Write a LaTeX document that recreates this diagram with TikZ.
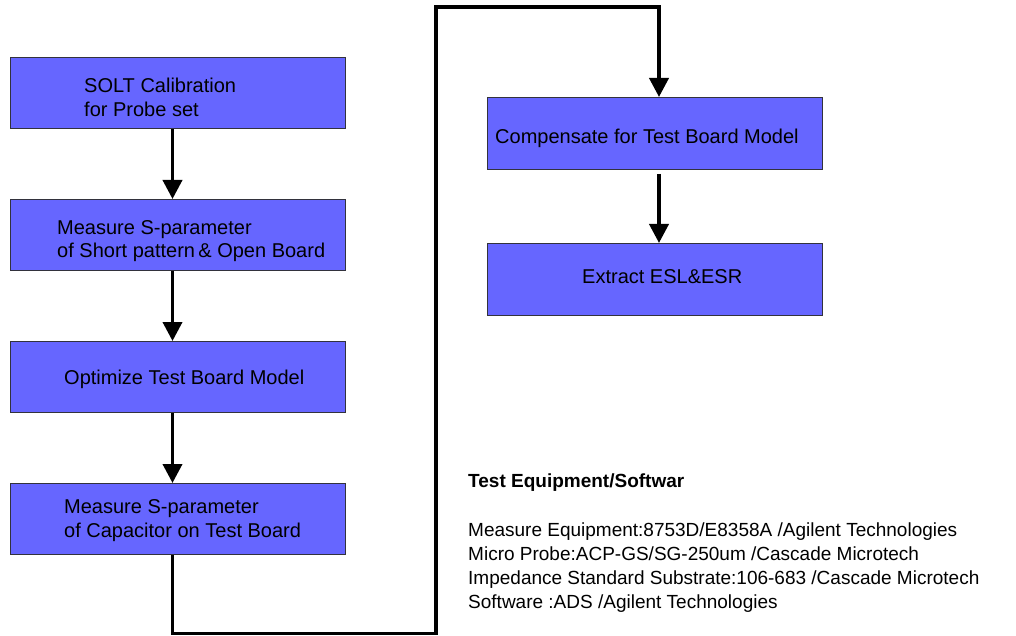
\documentclass[tikz,border=0pt]{standalone}
\usepackage{fontspec}
\setmainfont{Liberation Sans}
\usetikzlibrary{arrows.meta}
\definecolor{boxfill}{RGB}{102,102,255}
\definecolor{boxedge}{RGB}{50,50,60}
\tikzset{
  x=1pt, y=-1pt,
  stepbox/.style={draw=boxedge, line width=0.9pt, fill=boxfill, rectangle,
    minimum width=335pt, minimum height=71pt, inner sep=0pt, anchor=north west},
  boxtext/.style={anchor=base west, inner sep=0pt, font=\fontsize{20pt}{23pt}\selectfont},
  notetext/.style={anchor=base west, inner sep=0pt, font=\fontsize{19pt}{24pt}\selectfont},
  tip/.style={-{Triangle[length=19pt,width=19pt]}},
  flow/.style={line width=3.8pt, tip},
  wire/.style={line width=3.8pt, line join=miter}
}
\begin{document}
\begin{tikzpicture}
\useasboundingbox (0,0) rectangle (1016,636);

% left column of process steps
\node[stepbox] (b1) at (10,57) {};
\node[stepbox] (b2) at (10,199) {};
\node[stepbox] (b3) at (10,341) {};
\node[stepbox] (b4) at (10,483) {};
% right column of process steps
\node[stepbox, minimum height=72pt] (b5) at (487,97) {};
\node[stepbox, minimum height=72pt] (b6) at (487,243) {};

% step labels
\node[boxtext] (t1a) at (84,93) {SOLT Calibration};
\node[boxtext] (t1b) at (84,117) {for Probe set};
\node[boxtext] (t2a) at (57,234) {Measure S-parameter};
\node[boxtext] (t2b) at (57,257) {of Short pattern\,\& Open Board};
\node[boxtext] (t3a) at (64,384) {Optimize Test Board Model};
\node[boxtext] (t4a) at (64,513) {Measure S-parameter};
\node[boxtext] (t4b) at (64,537) {of Capacitor on Test Board};
\node[boxtext] (t5a) at (495,144) {Compensate for Test Board Model};
\node[boxtext] (t6a) at (582,283) {Extract ESL\&ESR};

% guide points for the arrows
\coordinate (lx) at (172.5,0);
\coordinate (c1) at (172.5,633.5);
\coordinate (c2) at (436,633.5);
\coordinate (c3) at (436,7);
\coordinate (c4) at (659,7);

% flow arrows
\draw[flow] (b1.south -| lx) -- (b2.north -| lx);
\draw[flow] (b2.south -| lx) -- (b3.north -| lx);
\draw[flow] (b3.south -| lx) -- (b4.north -| lx);
\draw[wire, tip] (b4.south -| c1) -- (c1) -- (c2) -- (c3) -- (c4) -- (c4 |- b5.north);
\draw[flow] ([yshift=-4pt]b5.south -| c4) -- (b6.north -| c4);

% equipment notes
\node[notetext, font=\bfseries\fontsize{19pt}{24pt}\selectfont] (n0) at (468,487) {Test Equipment/Softwar};
\node[notetext] (n1) at (468,536) {Measure Equipment:8753D/E8358A /Agilent Technologies};
\node[notetext] (n2) at (468,560) {Micro Probe:ACP-GS/SG-250um /Cascade Microtech};
\node[notetext] (n3) at (468,584) {Impedance Standard Substrate:106-683 /Cascade Microtech};
\node[notetext] (n4) at (468,608) {Software :ADS /Agilent Technologies};
\end{tikzpicture}
\end{document}
